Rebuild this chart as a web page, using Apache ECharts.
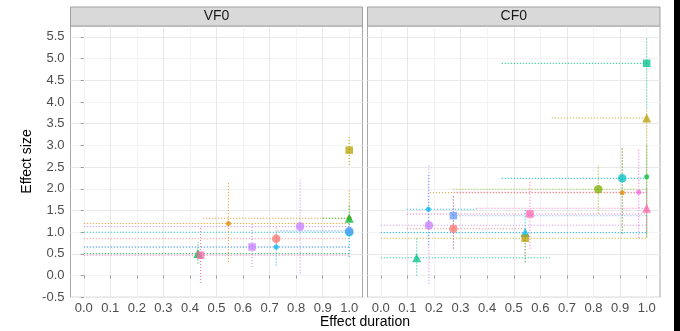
<!DOCTYPE html>
<html><head><meta charset="utf-8">
<script src="https://cdn.jsdelivr.net/npm/echarts@6/dist/echarts.min.js"></script>
<style>html,body{margin:0;padding:0;background:#fff}#c{width:680px;height:331px}</style>
</head><body><div id="c"></div>
<script>
// ---- data ----
const panels = ['VF0', 'CF0'];
const xTicks = [0, 0.1, 0.2, 0.3, 0.4, 0.5, 0.6, 0.7, 0.8, 0.9, 1.0];
const yTicks = [-0.5, 0, 0.5, 1, 1.5, 2, 2.5, 3, 3.5, 4, 4.5, 5, 5.5];
const palette = {red:'#F8766D', orange:'#DE8C00', olive:'#B79F00', lime:'#7CAE00', green:'#00BA38', teal:'#00C08B',
  cyan:'#00BFC4', blue:'#00B4F0', periwinkle:'#619CFF', violet:'#C77CFF', magenta:'#F564E3', pink:'#FF64B0'};

// VF0 panel
const vfColor = ['red','orange','orange','olive','green','green','pink','violet','blue','violet','cyan','periwinkle'];
const vfShape = ['circle','dot','dot','square','triangle','triangle','square','square','dot','circle','circle','circle'];
const vfX    = [0.725, 0.545, 1.0, 1.0, 1.0, 0.43, 0.44, 0.634, 0.725, 0.815, 1.0, 1.0];
const vfY    = [0.85, 1.20, 1.32, 2.89, 1.32, 0.51, 0.47, 0.66, 0.66, 1.13, 1.00, 1.03];
const vfXmin = [0, 0, 0.45, 1.0, 0.9, 0, 0, 0, 0, 0, 0, 0.73];
const vfXmax = [1, 1, 1, 1, 1, 1, 1, 1, 1, 1, 1, 1];
const vfYmin = [0.60, 0.31, 1.32, 2.55, 0.95, 0.28, -0.17, 0.20, 0.23, 0.05, 0.43, 0.90];
const vfYmax = [1.12, 2.13, 2.00, 3.22, 1.60, 0.78, 1.12, 1.19, 1.00, 2.21, 1.00, 1.20];

// CF0 panel
const cfColor = ['teal','olive','lime','green','cyan','orange','magenta','pink','blue','periwinkle','pink','violet','red','blue','olive','teal'];
const cfShape = ['square','triangle','circle','dot','circle','dot','dot','triangle','dot','square','square','circle','circle','triangle','square','triangle'];
const cfX    = [1.0, 1.0, 0.818, 1.0, 0.908, 0.908, 0.97, 1.0, 0.179, 0.273, 0.561, 0.181, 0.273, 0.543, 0.543, 0.135];
const cfY    = [4.89, 3.63, 1.99, 2.28, 2.24, 1.91, 1.92, 1.55, 1.53, 1.38, 1.42, 1.16, 1.08, 0.99, 0.86, 0.41];
const cfXmin = [0.455, 0.643, 0.273, 1.0, 0.455, 0.185, 0.273, 0.36, 0.098, 0.273, 0.098, 0, 0.098, 0, 0, 0];
const cfXmax = [1, 1, 1, 1, 1, 1, 1, 1, 0.36, 1, 1, 1, 0.55, 1, 1, 0.636];
const cfYmin = [3.85, 0.88, 1.43, 0.90, 0.97, 0.97, 0.87, 1.00, 0.70, 0.63, 0.62, -0.19, 0.62, 0.31, 0.31, 0.00];
const cfYmax = [5.49, 3.85, 2.55, 3.00, 2.94, 2.94, 2.94, 2.00, 2.36, 1.86, 2.20, 2.55, 1.82, 1.51, 0.86, 0.86];

// ---- styling / build ----
const FONT = 'Liberation Sans, Arial, sans-serif';
const shapeSym = {circle:['circle',8.5], square:['rect',7.5], triangle:['triangle',9], dot:['circle',5]};
const isMajor = (v, step) => Math.abs(v/step - Math.round(v/step)) < 1e-6;

const panelData = [
  {color:vfColor, shape:vfShape, x:vfX, y:vfY, xmin:vfXmin, xmax:vfXmax, ymin:vfYmin, ymax:vfYmax},
  {color:cfColor, shape:cfShape, x:cfX, y:cfY, xmin:cfXmin, xmax:cfXmax, ymin:cfYmin, ymax:cfYmax}
];
const gridLeft = [70.5, 367.5], gridW = [292, 292.5], gridTop = 26, gridH = 271.3;

const grids = [], xAxes = [], yAxes = [], series = [], graphics = [];
panels.forEach((name, p) => {
  grids.push({left:gridLeft[p], top:gridTop, width:gridW[p], height:gridH, show:true,
    backgroundColor:'#fff', borderColor:'#A8A8A8', borderWidth:1, containLabel:false});
  xAxes.push({type:'value', gridIndex:p, min:-0.05, max:1.05, interval:0.05,
    axisLine:{show:false},
    axisTick:{show:true, length:3, lineStyle:{color:'#9A9A9A'}, customValues:xTicks},
    axisLabel:{show:true, color:'#4D4D4D', fontSize:13, fontFamily:FONT, margin:5, customValues:xTicks,
      formatter:v => isMajor(v,0.1) ? v.toFixed(1) : ''},
    splitLine:{show:true, lineStyle:{color:['#F3F3F3','#E8E8E8'], width:1}}});
  yAxes.push({type:'value', gridIndex:p, min:-0.5, max:5.75, interval:0.25,
    axisLine:{show:false},
    axisTick:{show:p===0, length:3, lineStyle:{color:'#9A9A9A'}, customValues:yTicks},
    axisLabel:{show:p===0, color:'#4D4D4D', fontSize:13, fontFamily:FONT, margin:6, customValues:yTicks,
      formatter:v => isMajor(v,0.5) ? v.toFixed(1) : ''},
    splitLine:{show:true, lineStyle:{color:['#E8E8E8','#F3F3F3'], width:1}}});

  const d = panelData[p];
  const ebData = d.x.map((xv, i) => [xv, d.y[i], d.xmin[i], d.xmax[i], d.ymin[i], d.ymax[i], i]);
  series.push({type:'custom', xAxisIndex:p, yAxisIndex:p, z:2, silent:true,
    encode:{x:[0,2,3], y:[1,4,5]},
    data: ebData,
    renderItem:(params, api) => {
      const i = api.value(6);
      const c = palette[d.color[i]];
      const a = api.coord([api.value(2), api.value(1)]);
      const b = api.coord([api.value(3), api.value(1)]);
      const e = api.coord([api.value(0), api.value(4)]);
      const f = api.coord([api.value(0), api.value(5)]);
      const st = {stroke:c, lineWidth:1.1, lineDash:[1,2], opacity:0.9, fill:null};
      return {type:'group', children:[
        {type:'line', shape:{x1:a[0], y1:a[1], x2:b[0], y2:b[1]}, style:st},
        {type:'line', shape:{x1:e[0], y1:e[1], x2:f[0], y2:f[1]}, style:st}
      ]};
    }});
  series.push({type:'scatter', xAxisIndex:p, yAxisIndex:p, z:3, silent:true,
    data: d.x.map((xv, i) => ({value:[xv, d.y[i]], symbol:shapeSym[d.shape[i]][0], symbolSize:shapeSym[d.shape[i]][1],
      itemStyle:{color:palette[d.color[i]], opacity:0.75}}))});

  graphics.push({type:'rect', shape:{x:gridLeft[p], y:7, width:gridW[p], height:19},
    style:{fill:'#D9D9D9', stroke:'#A0A0A0', lineWidth:1}, z:10});
  graphics.push({type:'text', x:gridLeft[p] + gridW[p]/2, y:16.5,
    style:{text:name, fill:'#1A1A1A', font:'14px ' + FONT, textAlign:'center', textVerticalAlign:'middle'}, z:11});
});

graphics.push({type:'text', x:27, y:161.5, rotation:Math.PI/2,
  style:{text:'Effect size', fill:'#000', font:'14px ' + FONT, textAlign:'center', textVerticalAlign:'middle'}});
graphics.push({type:'text', x:365, y:322,
  style:{text:'Effect duration', fill:'#000', font:'14px ' + FONT, textAlign:'center', textVerticalAlign:'middle'}});
graphics.push({type:'rect', shape:{x:674, y:0, width:6, height:331}, style:{fill:'#000'}});

const chart = echarts.init(document.getElementById('c'), null, {renderer:'canvas'});
chart.setOption({animation:false, backgroundColor:'#fff', grid:grids, xAxis:xAxes, yAxis:yAxes, series:series, graphic:graphics});
</script></body></html>
